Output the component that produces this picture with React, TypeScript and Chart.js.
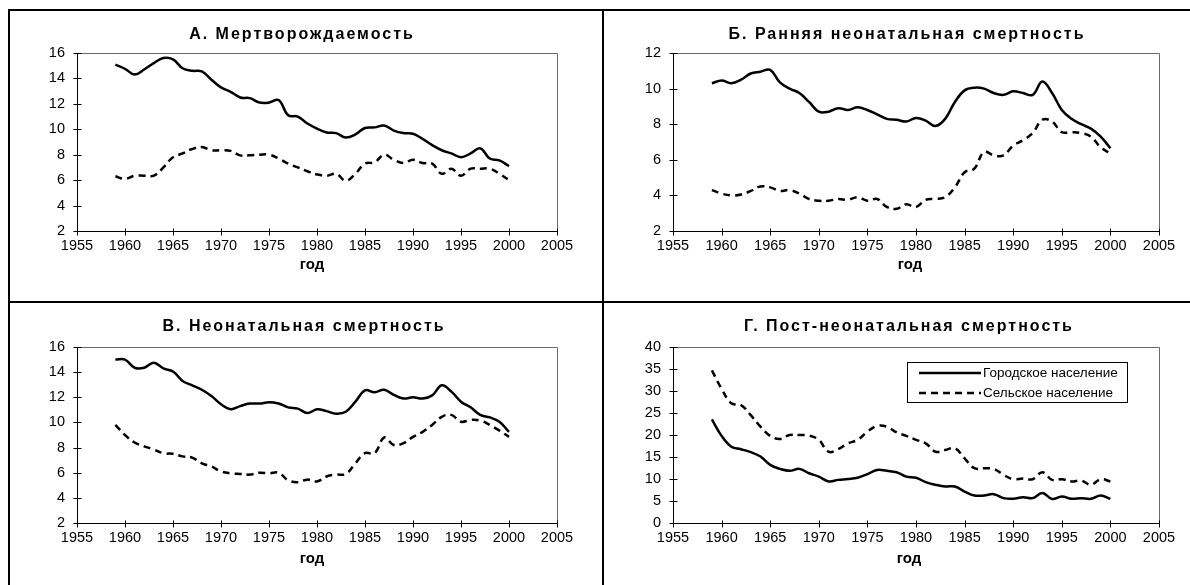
import React, { useEffect, useRef } from "react";
import { Chart, registerables } from "chart.js";

Chart.register(...registerables);

// ---------- DATA ----------
const years = [
  1959, 1960, 1961, 1962, 1963, 1964, 1965, 1966, 1967, 1968, 1969, 1970, 1971, 1972,
  1973, 1974, 1975, 1976, 1977, 1978, 1979, 1980, 1981, 1982, 1983, 1984, 1985, 1986,
  1987, 1988, 1989, 1990, 1991, 1992, 1993, 1994, 1995, 1996, 1997, 1998, 1999, 2000,
];

const seriesLabels = ["Городское население", "Сельское население"];
const xAxisLabel = "год";

const titleA = "А. Мертворождаемость";
const stillbirthUrban = [
  15.08, 14.76, 14.3, 14.7, 15.2, 15.6, 15.5, 14.8, 14.6, 14.55, 13.9, 13.3, 12.95, 12.5,
  12.45, 12.1, 12.1, 12.3, 11.1, 11.0, 10.45, 10.05, 9.75, 9.7, 9.35, 9.6, 10.1, 10.15,
  10.3, 9.9, 9.7, 9.65, 9.25, 8.75, 8.35, 8.1, 7.8, 8.1, 8.5, 7.7, 7.55, 7.1,
];
const stillbirthRural = [
  6.3, 6.1, 6.35, 6.35, 6.35, 7.0, 7.8, 8.1, 8.45, 8.6, 8.35, 8.35, 8.3, 7.95,
  7.95, 8.0, 8.0, 7.7, 7.3, 7.0, 6.7, 6.45, 6.35, 6.5, 5.95, 6.5, 7.3, 7.4,
  8.0, 7.6, 7.35, 7.6, 7.35, 7.3, 6.5, 6.9, 6.35, 6.9, 6.9, 6.9, 6.5, 6.0,
];

const titleB = "Б. Ранняя неонатальная смертность";
const earlyNeoUrban = [
  10.3, 10.45, 10.3, 10.5, 10.85, 10.95, 11.05, 10.35, 10.0, 9.75, 9.25, 8.7, 8.7, 8.9,
  8.8, 8.95, 8.8, 8.55, 8.3, 8.25, 8.15, 8.35, 8.2, 7.9, 8.3, 9.25, 9.9, 10.05,
  10.0, 9.75, 9.65, 9.85, 9.75, 9.65, 10.4, 9.75, 8.8, 8.3, 8.0, 7.75, 7.3, 6.65,
];
const earlyNeoRural = [
  4.3, 4.1, 4.0, 4.05, 4.25, 4.5, 4.45, 4.25, 4.3, 4.1, 3.8, 3.7, 3.7, 3.8,
  3.75, 3.9, 3.7, 3.8, 3.35, 3.25, 3.5, 3.35, 3.75, 3.8, 3.9, 4.45, 5.3, 5.5,
  6.45, 6.25, 6.25, 6.8, 7.1, 7.5, 8.25, 8.15, 7.55, 7.55, 7.5, 7.3, 6.7, 6.35,
];

const titleC = "В. Неонатальная смертность";
const neoUrban = [
  15.0, 15.0, 14.35, 14.35, 14.75, 14.3, 14.05, 13.3, 12.95, 12.6, 12.1, 11.45, 11.05, 11.3,
  11.5, 11.5, 11.6, 11.5, 11.2, 11.1, 10.75, 11.05, 10.9, 10.7, 10.85, 11.65, 12.55, 12.4,
  12.6, 12.2, 11.9, 12.0, 11.9, 12.15, 12.95, 12.45, 11.65, 11.2, 10.6, 10.4, 10.05, 9.25,
];
const neoRural = [
  9.8, 9.0, 8.4, 8.1, 7.85, 7.55, 7.5, 7.3, 7.2, 6.75, 6.5, 6.1, 5.95, 5.9,
  5.85, 6.0, 5.95, 6.0, 5.4, 5.25, 5.45, 5.3, 5.7, 5.85, 5.9, 6.75, 7.55, 7.55,
  8.8, 8.2, 8.35, 8.85, 9.25, 9.8, 10.45, 10.6, 10.05, 10.2, 10.15, 9.8, 9.35, 8.85,
];

const titleD = "Г. Пост-неонатальная смертность";
const postNeoUrban = [
  23.55, 19.8, 17.35, 16.75, 16.1, 15.1, 13.2, 12.3, 11.85, 12.3, 11.3, 10.55, 9.45, 9.8,
  10.0, 10.3, 11.1, 12.05, 11.85, 11.55, 10.55, 10.3, 9.3, 8.7, 8.3, 8.3, 7.15, 6.25,
  6.25, 6.55, 5.65, 5.5, 5.85, 5.65, 6.8, 5.45, 6.05, 5.5, 5.65, 5.5, 6.25, 5.5,
];
const postNeoRural = [
  34.7, 30.5, 27.2, 26.8, 24.5, 21.9, 19.8, 19.1, 20.0, 20.0, 19.85, 18.9, 16.2, 16.8,
  18.1, 18.9, 20.75, 22.05, 21.9, 20.6, 19.8, 18.9, 18.1, 16.2, 16.6, 17.0, 14.7, 12.45,
  12.45, 12.3, 10.95, 9.95, 10.1, 9.95, 11.55, 9.8, 9.95, 9.45, 9.65, 8.7, 9.95, 9.45,
];

const xMin = 1955;
const xMax = 2005;
const xStep = 5;

// ---------- STYLE ----------
const FONT = "'Liberation Sans', Arial, Helvetica, sans-serif";

type Area = { l: number; r: number; t: number; b: number };
type PanelProps = {
  left: number;
  top: number;
  width: number;
  height: number;
  title: string;
  urban: number[];
  rural: number[];
  yMin: number;
  yMax: number;
  yStep: number;
  area: Area;
  titleX: number;
  titleY: number;
  xLabelX: number;
  xLabelY: number;
  legend?: { x: number; y: number; w: number; h: number } | null;
};

const decorPlugin = {
  id: "panelDecor",
  afterDraw(chart: any, _args: any, opts: any) {
    const ctx: CanvasRenderingContext2D = chart.ctx;
    const { left, right, top, bottom } = chart.chartArea;
    const xs = chart.scales.x;
    const ys = chart.scales.y;
    const L = Math.round(left) + 0.5;
    const R = Math.round(right) + 0.5;
    const T = Math.round(top) + 0.5;
    const B = Math.round(bottom) + 0.5;
    ctx.save();
    // top/right frame (gray)
    ctx.strokeStyle = "#6a6a6a";
    ctx.lineWidth = 1;
    ctx.beginPath();
    ctx.moveTo(L, T);
    ctx.lineTo(R, T);
    ctx.lineTo(R, B);
    ctx.stroke();
    // axes (black)
    ctx.strokeStyle = "#000";
    ctx.beginPath();
    ctx.moveTo(L, T);
    ctx.lineTo(L, B);
    ctx.lineTo(R, B);
    // crossing ticks
    for (const t of ys.ticks) {
      const p = Math.round(ys.getPixelForValue(t.value)) + 0.5;
      ctx.moveTo(L - 4, p);
      ctx.lineTo(L + 4, p);
    }
    for (const t of xs.ticks) {
      const p = Math.round(xs.getPixelForValue(t.value)) + 0.5;
      ctx.moveTo(p, B - 3);
      ctx.lineTo(p, B + 4);
    }
    ctx.stroke();

    // title
    ctx.fillStyle = "#000";
    ctx.textAlign = "center";
    ctx.textBaseline = "middle";
    (ctx as any).letterSpacing = opts.titleSpacing || "0px";
    ctx.font = `bold ${opts.titleSize}px ${FONT}`;
    ctx.fillText(opts.title, opts.titleX, opts.titleY);
    (ctx as any).letterSpacing = "0px";
    // x axis label
    ctx.font = `bold ${opts.xLabelSize}px ${FONT}`;
    ctx.fillText(opts.xLabel, opts.xLabelX, opts.xLabelY);

    // legend
    const lg = opts.legend;
    if (lg) {
      ctx.fillStyle = "#fff";
      ctx.fillRect(lg.x, lg.y, lg.w, lg.h);
      ctx.strokeStyle = "#000";
      ctx.lineWidth = 1;
      ctx.strokeRect(lg.x + 0.5, lg.y + 0.5, lg.w, lg.h);
      ctx.font = `${opts.legendSize}px ${FONT}`;
      ctx.textAlign = "left";
      ctx.textBaseline = "middle";
      chart.data.datasets.forEach((ds: any, i: number) => {
        const yy = lg.y + 11 + i * 20;
        ctx.strokeStyle = ds.borderColor;
        ctx.lineWidth = ds.borderWidth;
        ctx.setLineDash(ds.borderDash || []);
        ctx.beginPath();
        ctx.moveTo(lg.x + 12, yy);
        ctx.lineTo(lg.x + 74, yy);
        ctx.stroke();
        ctx.setLineDash([]);
        ctx.fillStyle = "#000";
        ctx.fillText(ds.label, lg.x + 76, yy);
      });
    }
    ctx.restore();
  },
};

function Panel(p: PanelProps) {
  const ref = useRef<HTMLCanvasElement | null>(null);
  useEffect(() => {
    if (!ref.current) return;
    const mk = (vals: number[]) => years.map((yr, i) => ({ x: yr, y: vals[i] }));
    const chart = new Chart(ref.current, {
      type: "line",
      data: {
        datasets: [
          {
            label: seriesLabels[0],
            data: mk(p.urban),
            borderColor: "#000",
            borderWidth: 2.5,
            pointRadius: 0,
            tension: 0.4,
            fill: false,
          },
          {
            label: seriesLabels[1],
            data: mk(p.rural),
            borderColor: "#000",
            borderWidth: 2.5,
            borderDash: [7, 5],
            pointRadius: 0,
            tension: 0.4,
            fill: false,
          },
        ],
      },
      options: {
        animation: false,
        responsive: false,
        devicePixelRatio: 1,
        layout: {
          padding: { left: 0, right: p.width - p.area.r, top: p.area.t, bottom: 0 },
        },
        plugins: {
          legend: { display: false },
          title: { display: false },
          tooltip: { enabled: false },
          panelDecor: {
            title: p.title,
            titleX: p.titleX,
            titleY: p.titleY,
            titleSize: 16,
            titleSpacing: "2px",
            xLabel: xAxisLabel,
            xLabelX: p.xLabelX,
            xLabelY: p.xLabelY,
            xLabelSize: 15,
            legendSize: 13.5,
            legend: p.legend || null,
          },
        } as any,
        scales: {
          x: {
            type: "linear",
            min: xMin,
            max: xMax,
            grid: { display: false, drawTicks: false },
            border: { display: false },
            ticks: {
              stepSize: xStep,
              padding: 6,
              color: "#000",
              maxRotation: 0,
              autoSkip: false,
              font: { family: FONT, size: 14.5 },
              callback: (v: any) => String(v),
            },
            afterFit: (s: any) => {
              s.height = p.height - p.area.b;
            },
          },
          y: {
            type: "linear",
            min: p.yMin,
            max: p.yMax,
            grid: { display: false, drawTicks: false },
            border: { display: false },
            ticks: {
              stepSize: p.yStep,
              padding: 12,
              color: "#000",
              font: { family: FONT, size: 14.5 },
              callback: (v: any) => String(v),
            },
            afterFit: (s: any) => {
              s.width = p.area.l;
            },
          },
        },
      },
      plugins: [decorPlugin],
    });
    return () => chart.destroy();
  }, []);
  return (
    <canvas
      ref={ref}
      width={p.width}
      height={p.height}
      style={{ position: "absolute", left: p.left, top: p.top, width: p.width, height: p.height }}
    />
  );
}

const line = (l: number, t: number, w: number, h: number) => (
  <div style={{ position: "absolute", left: l, top: t, width: w, height: h, background: "#000" }} />
);

export default function App() {
  return (
    <div
      style={{
        position: "fixed",
        left: 0,
        top: 0,
        width: 1190,
        height: 585,
        background: "#fff",
        overflow: "hidden",
      }}
    >
      {line(8, 9, 1182, 2)}
      {line(8, 9, 2, 576)}
      {line(602, 9, 2, 576)}
      {line(8, 301, 1182, 2)}
      <Panel
        left={10} top={11} width={592} height={290}
        title={titleA} urban={stillbirthUrban} rural={stillbirthRural}
        yMin={2} yMax={16} yStep={2}
        area={{ l: 67, r: 547, t: 42, b: 220 }}
        titleX={292} titleY={24} xLabelX={302} xLabelY={254}
      />
      <Panel
        left={604} top={11} width={586} height={290}
        title={titleB} urban={earlyNeoUrban} rural={earlyNeoRural}
        yMin={2} yMax={12} yStep={2}
        area={{ l: 69, r: 555, t: 42, b: 220 }}
        titleX={303} titleY={24} xLabelX={306} xLabelY={254}
      />
      <Panel
        left={10} top={303} width={592} height={282}
        title={titleC} urban={neoUrban} rural={neoRural}
        yMin={2} yMax={16} yStep={2}
        area={{ l: 67, r: 547, t: 44, b: 220 }}
        titleX={294} titleY={24} xLabelX={302} xLabelY={256}
      />
      <Panel
        left={604} top={303} width={586} height={282}
        title={titleD} urban={postNeoUrban} rural={postNeoRural}
        yMin={0} yMax={40} yStep={5}
        area={{ l: 69, r: 555, t: 44, b: 220 }}
        titleX={305} titleY={24} xLabelX={305} xLabelY={256}
        legend={{ x: 303, y: 59, w: 220, h: 40 }}
      />
    </div>
  );
}
